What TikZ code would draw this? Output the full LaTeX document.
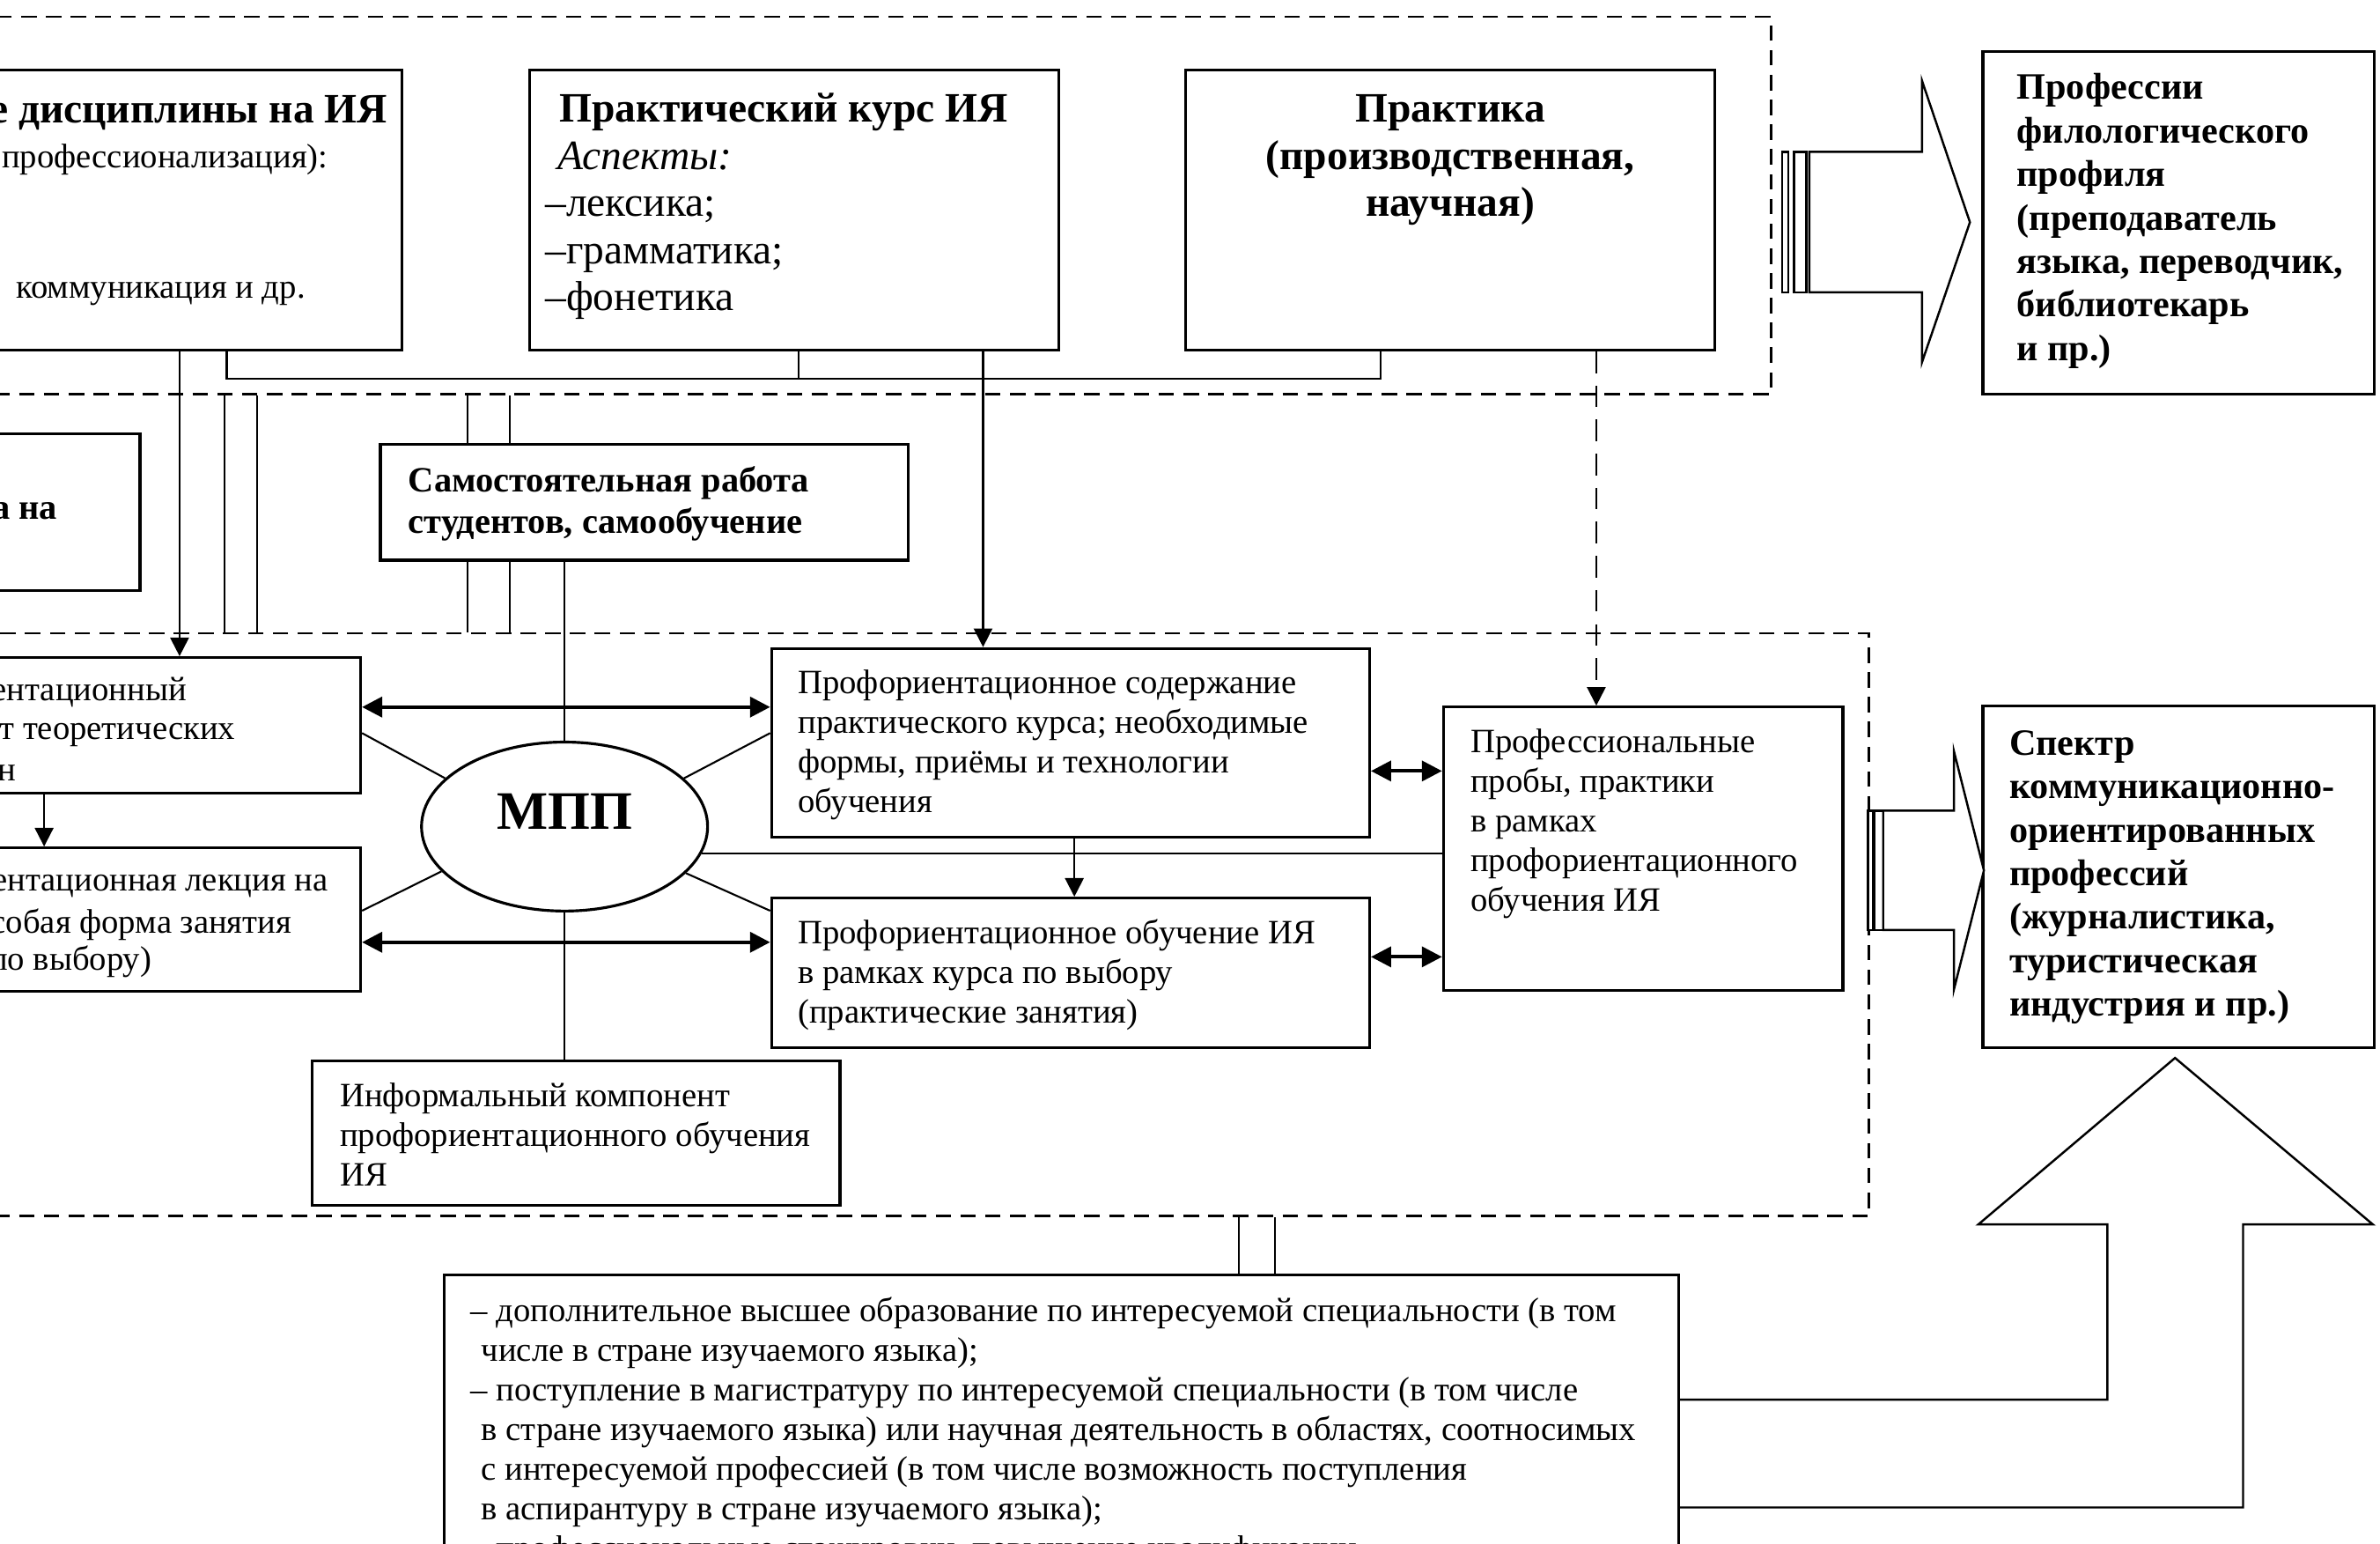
\documentclass[tikz,border=0pt]{standalone}
\usepackage{fontspec}
\setmainfont{Liberation Serif}
\usetikzlibrary{shapes.geometric,arrows.meta}

\def\pu{0.01728cm}
\tikzset{
	box/.style 2 args={draw, line width=0.9pt, minimum width=#1*\pu, minimum height=#2*\pu, inner sep=0pt},
	frame/.style 2 args={draw, line width=0.8pt, dash pattern=on 5pt off 3pt, minimum width=#1*\pu, minimum height=#2*\pu, inner sep=0pt},
	txt/.style={font=\fontsize{11}{12.8}\selectfont, align=left, inner sep=0pt},
	txtb/.style={font=\fontsize{11.5}{13.3}\selectfont\bfseries, align=left, inner sep=0pt},
	big/.style={font=\fontsize{13.5}{15.2}\selectfont, align=left, inner sep=0pt},
	bigb/.style={font=\fontsize{13.5}{15.2}\selectfont\bfseries, align=center, inner sep=0pt},
	prof/.style={font=\fontsize{12}{14.05}\selectfont\bfseries, align=left, inner sep=0pt},
	line/.style={line width=0.6pt},
	arr/.style={line width=0.6pt, -{Triangle[length=6pt,width=6pt]}},
	darr/.style={line width=1.1pt, {Triangle[length=6.5pt,width=6.5pt]}-{Triangle[length=6.5pt,width=6.5pt]}},
	hollow/.style={draw, line width=0.7pt, fill=white},
}

\begin{document}
\begin{tikzpicture}[x=\pu, y=-\pu]
	\useasboundingbox (0,0) rectangle (1564,1014);
	\clip (0,0) rectangle (1564,1014);
	% dashed frames
	\node[frame={1184}{248}] (upper) at (572,135) {};
	\node[frame={1248}{383}] (lower) at (604,607.5) {};
	% top row
	\node[box={284}{184}] (A) at (122,138) {};
	\node[box={348}{184}] (B) at (522,138) {};
	\node[box={348}{184}] (C) at (953,138) {};
	\node[box={257}{225}] (D) at (1431.5,146.5) {};
	\node[bigb, anchor=east] (A1) at (255,74) {е дисциплины на ИЯ};
	\node[txt, anchor=east] (A2) at (216,105) {профессионализация):};
	\node[txt, anchor=east] (A3) at (201,193) {коммуникация и др.};
	\node[big, anchor=north west] (Bt) at (358,61) {\hspace*{4.5pt}\textbf{Практический курс ИЯ}\\\hspace*{4pt}\textit{Аспекты:}\\–лексика;\\–грамматика;\\–фонетика};
	\node[bigb, anchor=north] (Ct) at (953,62) {Практика\\(производственная,\\научная)};
	\node[prof, anchor=north west] (Dt) at (1325,48) {Профессии\\филологического\\профиля\\(преподаватель\\языка, переводчик,\\библиотекарь\\и пр.)};
	% middle
	\node[box={347}{76}] (G) at (423.5,330) {};
	\node[txtb, anchor=north west] (Gt) at (268,306) {Самостоятельная работа\\студентов, самообучение};
	\node[box={112}{103}] (S) at (36,336.5) {};
	\node[txtb, anchor=east] (St) at (38,335.5) {а на};
	% lower frame
	\node[box={257}{89}] (E) at (108.5,476.5) {};
	\node[box={257}{94}] (I) at (108.5,604) {};
	\foreach \n/\x/\y/\t in {E1/123/455/ентационный, E2/155/482.6/т теоретических, E3/11/508/н,
		I1/216/582/ентационная лекция на, I2/192/607.5/собая форма занятия, I3/100/632/по выбору)}
		\node[txt, anchor=east] (\n) at (\x,\y) {\t};
	\node[draw, ellipse, line width=0.9pt, minimum width=188*\pu, minimum height=111*\pu, inner sep=0pt,
		font=\fontsize{17.5}{20}\selectfont\bfseries, text depth=10pt] (mpp) at (371,543) {МПП};
	\node[box={393}{124}] (F) at (703.5,488) {};
	\node[txt, anchor=north west] (Ft) at (524,439.5) {Профориентационное содержание\\практического курса; необходимые\\формы, приёмы и технологии\\обучения};
	\node[box={393}{98.5}] (K) at (703.5,639.25) {};
	\node[txt, anchor=north west] (Kt) at (524,603.5) {Профориентационное обучение ИЯ\\в рамках курса по выбору\\(практические занятия)};
	\node[box={262.5}{186}] (H) at (1079.75,557.5) {};
	\node[txt, anchor=north west] (Ht) at (966,478.5) {Профессиональные\\пробы, практики\\в рамках\\профориентационного\\обучения ИЯ};
	\node[box={347}{95}] (J) at (378.5,744.5) {};
	\node[txt, anchor=north west] (Jt) at (223,711) {Информальный компонент\\профориентационного обучения\\ИЯ};
	\node[box={257}{224.5}] (L) at (1431.5,576.25) {};
	\node[prof, anchor=north west] (Lt) at (1320,479.5) {Спектр\\коммуникационно-\\ориентированных\\профессий\\(журналистика,\\туристическая\\индустрия и пр.)};
	% bottom
	\node[box={811}{262.6}] (M) at (697.5,968.7) {};
	\node[txt, anchor=north west] (Mt) at (309,852) {– дополнительное высшее образование по интересуемой специальности (в том\\
		\hspace*{3.4pt}числе в стране изучаемого языка);\\
		– поступление в магистратуру по интересуемой специальности (в том числе\\
		\hspace*{3.4pt}в стране изучаемого языка) или научная деятельность в областях, соотносимых\\
		\hspace*{3.4pt}с интересуемой профессией (в том числе возможность поступления\\
		\hspace*{3.4pt}в аспирантуру в стране изучаемого языка);\\
		– профессиональные стажировки, повышение квалификации};
	% links of the top row
	\coordinate (bA) at (149,249);
	\coordinate (bB) at (525,249);
	\coordinate (bC) at (907,249);
	\draw[line] (A.south -| bA) -- (bA) -- (bC) -- (C.south -| bC);
	\draw[line] (B.south -| bB) -- (bB);
	\coordinate (vAE) at (118,0);
	\coordinate (vBF) at (646,0);
	\coordinate (vCH) at (1049,0);
	\draw[arr] (A.south -| vAE) -- (E.north -| vAE);
	\draw[arr] (B.south -| vBF) -- (F.north -| vBF);
	\draw[arr, dash pattern=on 7pt off 4pt] (C.south -| vCH) -- (H.north -| vCH);
	% double lines
	\foreach \x in {147.6,168.7} {
		\coordinate (v) at (\x,0);
		\draw[line] (upper.south -| v) -- (lower.north -| v);
	}
	\foreach \x in {307,335} {
		\coordinate (v) at (\x,0);
		\draw[line] (upper.south -| v) -- (G.north -| v);
		\draw[line] (G.south -| v) -- (lower.north -| v);
	}
	\foreach \x in {814,837.7} {
		\coordinate (v) at (\x,0);
		\draw[line] (lower.south -| v) -- (M.north -| v);
	}
	% around МПП
	\draw[line] (G.south -| mpp.north) -- (mpp.north);
	\draw[line] (mpp.south) -- (mpp.south |- J.north);
	\coordinate (vEI) at (29,0);
	\coordinate (vFK) at (706,0);
	\draw[arr] (E.south -| vEI) -- (I.north -| vEI);
	\draw[arr] (F.south -| vFK) -- (K.north -| vFK);
	\coordinate (hEF) at (0,464.5);
	\coordinate (hIK) at (0,619);
	\coordinate (hFH) at (0,506.5);
	\coordinate (hKH) at (0,628.6);
	\draw[darr] (E.east |- hEF) -- (F.west |- hEF);
	\draw[darr] (I.east |- hIK) -- (K.west |- hIK);
	\draw[darr] (F.east |- hFH) -- (H.west |- hFH);
	\draw[darr] (K.east |- hKH) -- (H.west |- hKH);
	\coordinate (dU) at (0,481.6);
	\coordinate (dL) at (0,598.3);
	\draw[line] (E.east |- dU) -- (mpp.158);
	\draw[line] (I.east |- dL) -- (mpp.200);
	\draw[line] (mpp.22) -- (F.west |- dU);
	\draw[line] (mpp.339) -- (K.west |- dL);
	\draw[line] (mpp.349) -- (mpp.349 -| H.west);
	% hollow arrows
	\draw[hollow] (1171,99.8) rectangle (1175,192);
	\draw[hollow] (1179,99.8) rectangle (1187,192);
	\draw[hollow] (1189,99.8) -- (1263,99.8) -- (1263,53) -- (1294.5,146) -- (1263,238) -- (1263,192) -- (1189,192) -- cycle;
	\draw[hollow] (1227.5,532.5) rectangle (1231,611);
	\draw[hollow] (1232,532.5) rectangle (1237.5,611);
	\draw[hollow] (1237.5,532.5) -- (1284,532.5) -- (1284,493.5) -- (1303.7,571.8) -- (1284,650) -- (1284,611) -- (1237.5,611) -- cycle;
	\coordinate (u1) at (0,919.5);
	\coordinate (u2) at (0,990.3);
	\draw[line width=0.7pt] (M.east |- u1) -- (1384.8,919.5) -- (1384.8,804.4) -- (1300,804.4) -- (1429.3,695)
		-- (1559.3,804.4) -- (1474,804.4) -- (1474,990.3) -- (M.east |- u2);
\end{tikzpicture}
\end{document}
